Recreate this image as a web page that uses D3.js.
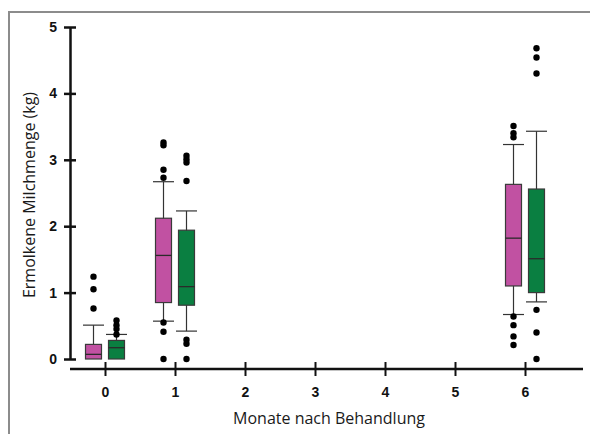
<!DOCTYPE html>
<meta charset="utf-8">
<html>
<head>
<title>Ermolkene Milchmenge</title>
<script src="https://d3js.org/d3.v7.min.js"></script>
<style>
html, body { margin: 0; background: #fff; }
body { font-family: Arial, "Liberation Sans", sans-serif; }
.tick text { font-weight: bold; font-size: 14px; fill: #111; }
</style>
</head>
<body>
<div id="chart"></div>
<script>
// months with data, and one entry per group
var months = [0, 1, 6];
var groups = ["A", "B"];
var colors = {A: "#c151a2", B: "#0a7f41"};

// box stats per month, group A (magenta)
var aLow  = [0.00, 0.57, 0.67];
var aQ1   = [0.00, 0.85, 1.10];
var aMed  = [0.07, 1.56, 1.82];
var aQ3   = [0.22, 2.12, 2.63];
var aHigh = [0.51, 2.67, 3.23];
var aOut  = [[1.24, 1.05, 0.76],
             [3.26, 3.22, 2.85, 2.73, 0.55, 0.41, 0.0],
             [3.51, 3.40, 3.34, 0.64, 0.51, 0.34, 0.21]];

// group B (green)
var bLow  = [0.00, 0.42, 0.86];
var bQ1   = [0.00, 0.81, 1.00];
var bMed  = [0.17, 1.09, 1.51];
var bQ3   = [0.28, 1.94, 2.56];
var bHigh = [0.37, 2.23, 3.43];
var bOut  = [[0.58, 0.51, 0.45, 0.37],
             [3.06, 3.01, 2.96, 2.68, 0.29, 0.23, 0.0],
             [4.68, 4.54, 4.30, 0.74, 0.40, 0.0]];

var xTicks = [0, 1, 2, 3, 4, 5, 6];
var yTicks = [0, 1, 2, 3, 4, 5];

var W = 590, H = 434;
var svg = d3.select("#chart").append("svg")
  .attr("width", W).attr("height", H);

// frame
svg.append("path")
  .attr("d", "M9,434 L9,12 L590,12")
  .attr("fill", "none").attr("stroke", "#8c8c8c").attr("stroke-width", 2);

var x = d3.scaleLinear().domain([0, 6]).range([105, 525]);
var y = d3.scaleLinear().domain([0, 5]).range([359, 27]);

// y axis
var yAxis = svg.append("g").attr("transform", "translate(70,0)")
  .call(d3.axisLeft(y).tickValues(yTicks).tickFormat(d3.format("d")).tickSizeInner(6).tickSizeOuter(0));
yAxis.select(".domain").attr("stroke", "#111").attr("stroke-width", 2.5);
yAxis.selectAll(".tick line").attr("x1", 6).attr("x2", -6).attr("stroke", "#111").attr("stroke-width", 2.5);
yAxis.selectAll(".tick text").attr("x", -13);

// x axis
var xAxis = svg.append("g").attr("transform", "translate(0,369)")
  .call(d3.axisBottom(x).tickValues(xTicks).tickFormat(d3.format("d")).tickSizeInner(7).tickSizeOuter(0));
xAxis.select(".domain").attr("d", "M70,0H583").attr("stroke", "#111").attr("stroke-width", 2.5);
xAxis.selectAll(".tick line").attr("y1", -7).attr("y2", 7).attr("stroke", "#111").attr("stroke-width", 2);
xAxis.selectAll(".tick text").attr("y", 18);

// axis titles
svg.append("text")
  .attr("x", 329).attr("y", 424)
  .attr("text-anchor", "middle")
  .style("font-family", "'Open Sans', sans-serif").style("font-size", "16px").attr("fill", "#1a1a1a")
  .text("Monate nach Behandlung");
svg.append("text")
  .attr("transform", "translate(35,195) rotate(-90)")
  .attr("text-anchor", "middle")
  .style("font-family", "'Open Sans', sans-serif").style("font-size", "16px").attr("fill", "#1a1a1a")
  .text("Ermolkene Milchmenge (kg)");

// build the box table
var boxes = [];
months.forEach(function(m, i) {
  boxes.push({m: m, g: "A", off: -11.5, low: aLow[i], q1: aQ1[i], med: aMed[i], q3: aQ3[i], high: aHigh[i], out: aOut[i]});
  boxes.push({m: m, g: "B", off: 11.5, low: bLow[i], q1: bQ1[i], med: bMed[i], q3: bQ3[i], high: bHigh[i], out: bOut[i]});
});

var bw = 16, cap = 21;
var g = svg.selectAll(".box").data(boxes).enter().append("g")
  .attr("class", "box")
  .attr("transform", function(d) { return "translate(" + (x(d.m) + d.off) + ",0)"; });

// whiskers
g.append("line")
  .attr("x1", 0).attr("x2", 0)
  .attr("y1", function(d) { return y(d.low); })
  .attr("y2", function(d) { return y(d.high); })
  .attr("stroke", "#333").attr("stroke-width", 1.2);
g.filter(function(d) { return d.high > d.q3; }).append("line")
  .attr("x1", -cap / 2).attr("x2", cap / 2)
  .attr("y1", function(d) { return y(d.high); })
  .attr("y2", function(d) { return y(d.high); })
  .attr("stroke", "#333").attr("stroke-width", 1.2);
g.filter(function(d) { return d.low < d.q1; }).append("line")
  .attr("x1", -cap / 2).attr("x2", cap / 2)
  .attr("y1", function(d) { return y(d.low); })
  .attr("y2", function(d) { return y(d.low); })
  .attr("stroke", "#333").attr("stroke-width", 1.2);

// boxes
g.append("rect")
  .attr("x", -bw / 2).attr("width", bw)
  .attr("y", function(d) { return y(d.q3); })
  .attr("height", function(d) { return y(d.q1) - y(d.q3); })
  .attr("fill", function(d) { return colors[d.g]; })
  .attr("stroke", "#3a3a3a").attr("stroke-width", 1.2);
g.append("line")
  .attr("x1", -bw / 2).attr("x2", bw / 2)
  .attr("y1", function(d) { return y(d.med); })
  .attr("y2", function(d) { return y(d.med); })
  .attr("stroke", "#2a2a2a").attr("stroke-width", 1.3);

// outliers
g.selectAll("circle").data(function(d) { return d.out; }).enter().append("circle")
  .attr("cx", 0)
  .attr("cy", function(v) { return y(v); })
  .attr("r", 3.2)
  .attr("fill", "#000");
</script>
</body>
</html>
